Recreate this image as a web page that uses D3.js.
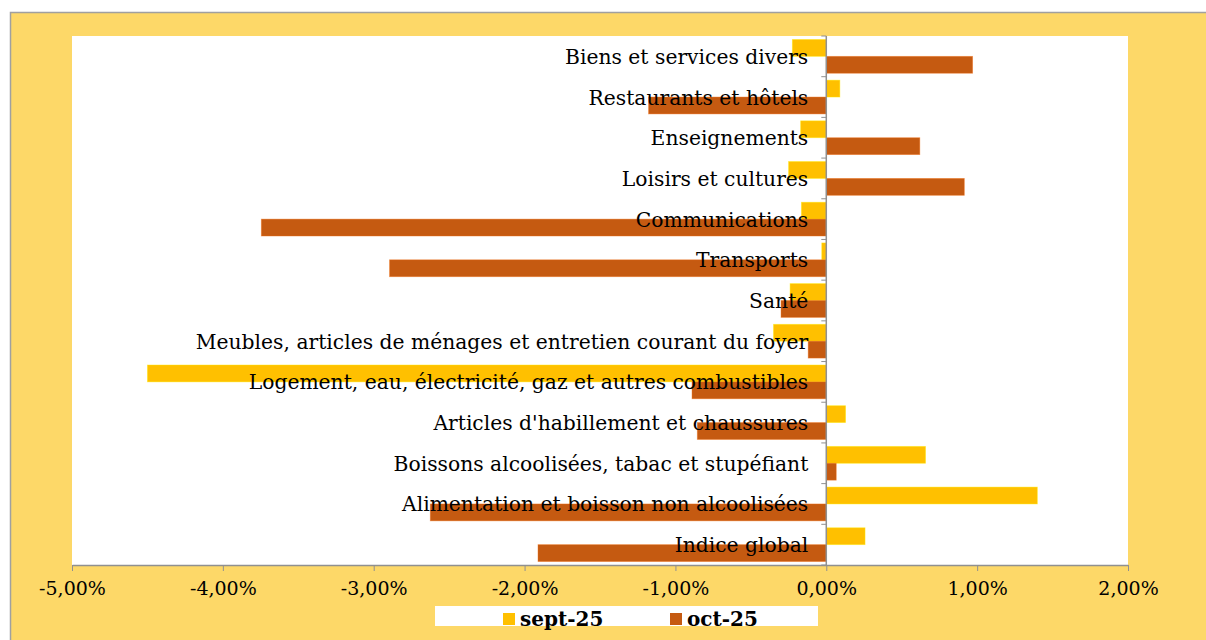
<!DOCTYPE html>
<html>
<head>
<meta charset="utf-8">
<script src="https://cdnjs.cloudflare.com/ajax/libs/d3/7.8.5/d3.min.js"></script>
<style>
  body { margin: 0; background: #fff; }
  svg { display: block; }
</style>
</head>
<body>
<svg width="1206" height="640"></svg>
<script>
// categories, top to bottom as drawn
var categories = [
  "Biens et services divers",
  "Restaurants et hôtels",
  "Enseignements",
  "Loisirs et cultures",
  "Communications",
  "Transports",
  "Santé",
  "Meubles, articles de ménages et entretien courant du foyer",
  "Logement, eau, électricité, gaz et autres combustibles",
  "Articles d'habillement et chaussures",
  "Boissons alcoolisées, tabac et stupéfiant ",
  "Alimentation et boisson non alcoolisées",
  "Indice global"
];
var sept25 = [-0.225, 0.09, -0.17, -0.25, -0.165, -0.03, -0.24, -0.35, -4.50, 0.128, 0.658, 1.399, 0.257];
var oct25  = [0.97, -1.178, 0.62, 0.915, -3.745, -2.895, -0.30, -0.12, -0.89, -0.855, 0.066, -2.625, -1.911];
var seriesNames = ["sept-25", "oct-25"];
var seriesColors = ["#FFC000", "#C55A11"];
var xTicks = [-5, -4, -3, -2, -1, 0, 1, 2];

var svg = d3.select("svg");

// chart background and frame
svg.append("rect").attr("x", 10).attr("y", 12).attr("width", 1196).attr("height", 628)
  .attr("fill", "#FDD868");
svg.append("path").attr("d", "M10.5,640V12.5H1206")
  .attr("fill", "none").attr("stroke", "#A0A0A0").attr("stroke-width", 1.5);

var plotL = 72, plotR = 1128, plotT = 36, plotB = 565;

svg.append("rect").attr("x", plotL).attr("y", plotT)
  .attr("width", plotR - plotL).attr("height", plotB - plotT).attr("fill", "#fff");

var x = d3.scaleLinear().domain([-5, 2]).range([plotL, plotR]);
var y = d3.scaleBand().domain(categories).range([plotT, plotB]).paddingInner(0.17).paddingOuter(0.085);
var ySub = d3.scaleBand().domain(seriesNames).range([0, y.bandwidth()]);

var rows = categories.map(function(c, i) {
  return { cat: c, vals: [sept25[i], oct25[i]] };
});

// bars
var g = svg.append("g");
rows.forEach(function(r) {
  r.vals.forEach(function(v, k) {
    g.append("rect")
      .attr("x", x(Math.min(0, v)))
      .attr("y", y(r.cat) + ySub(seriesNames[k]))
      .attr("width", Math.abs(x(v) - x(0)))
      .attr("height", ySub.bandwidth())
      .attr("fill", seriesColors[k])
      .attr("stroke", d3.color(seriesColors[k]).brighter(0.6))
      .attr("stroke-opacity", 0.5)
      .attr("stroke-width", 0.8);
  });
});

// bottom axis
var fmt = d3.format(".2f");
var xAxis = d3.axisBottom(x).tickValues(xTicks).tickSize(6).tickSizeOuter(0)
  .tickFormat(function(d) { return fmt(d).replace("\u2212", "-").replace(".", ",") + "%"; });
var ax = svg.append("g").attr("transform", "translate(0," + plotB + ")").call(xAxis);
ax.select(".domain").attr("stroke", "#909090").attr("stroke-width", 1.5);
ax.selectAll(".tick line").attr("stroke", "#909090");
ax.selectAll(".tick text").attr("fill", "#000").attr("y", 12).attr("dy", "0.95em")
  .style("font-family", "'DejaVu Serif', serif").style("font-size", "19px");

// zero axis with category ticks
var bounds = d3.range(categories.length + 1).map(function(i) {
  return plotT + i * (plotB - plotT) / categories.length;
});
svg.append("line").attr("x1", x(0)).attr("x2", x(0)).attr("y1", plotT).attr("y2", plotB)
  .attr("stroke", "#909090").attr("stroke-width", 1.5);
svg.selectAll(".ctick").data(bounds).enter().append("line")
  .attr("x1", x(0) - 5).attr("x2", x(0)).attr("y1", function(d) { return d; }).attr("y2", function(d) { return d; })
  .attr("stroke", "#909090");

// category labels
svg.selectAll(".clabel").data(categories).enter().append("text")
  .attr("x", x(0) - 18)
  .attr("y", function(d) { return y(d) + y.bandwidth() / 2 + 2; })
  .attr("text-anchor", "end")
  .attr("dominant-baseline", "middle")
  .style("font-family", "'DejaVu Serif', serif")
  .style("font-size", "20.3px")
  .attr("fill", "#000")
  .text(function(d) { return d; });

// legend
var lg = svg.append("g");
lg.append("rect").attr("x", 435).attr("y", 606).attr("width", 383).attr("height", 20).attr("fill", "#fff");
var legX = [503, 670];
seriesNames.forEach(function(s, i) {
  lg.append("rect").attr("x", legX[i]).attr("y", 613).attr("width", 12).attr("height", 12)
    .attr("fill", seriesColors[i]);
  lg.append("text").attr("x", legX[i] + 17).attr("y", 626)
    .style("font-family", "'DejaVu Serif', serif").style("font-size", "20px").style("font-weight", "bold")
    .text(s);
});
</script>
</body>
</html>
